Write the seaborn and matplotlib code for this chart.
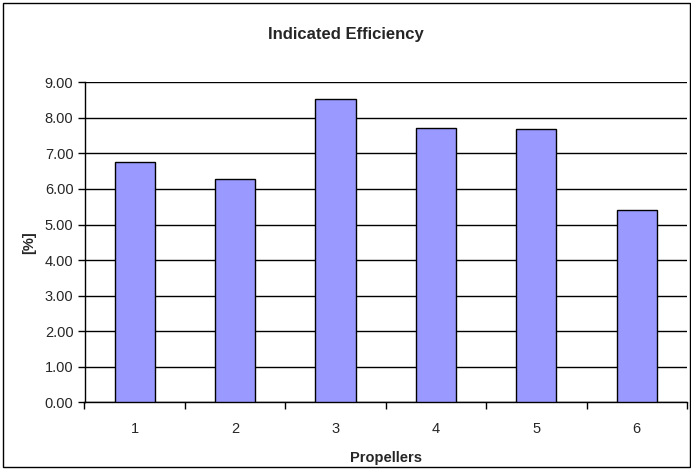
import matplotlib
matplotlib.use("Agg")
import matplotlib.pyplot as plt
import seaborn as sns
import pandas as pd
import numpy as np
from matplotlib.ticker import FixedLocator, FormatStrFormatter
from matplotlib.patches import Rectangle

propellers = ["1", "2", "3", "4", "5", "6"]
efficiency = [6.77, 6.28, 8.52, 7.71, 7.69, 5.41]
title = "Indicated Efficiency"
xlabel = "Propellers"
ylabel = "[%]"

sns.set_theme(style="white")
plt.rcParams['font.family'] = ['Liberation Sans', 'DejaVu Sans']

df = pd.DataFrame({"Propellers": propellers, "Efficiency": efficiency})

fig = plt.figure(figsize=(6.91, 4.69), dpi=100)
ax = fig.add_axes([84.5/691, 1-402.3/469, (687-84.5)/691, (402.3-82.3)/469])

sns.barplot(data=df, x="Propellers", y="Efficiency", color="#9999FF",
            edgecolor="black", linewidth=1.0, width=0.4, saturation=1, ax=ax, zorder=3)

ax.set_ylim(0, 9)
ax.set_xlim(-0.5, 5.5)
ax.yaxis.set_major_locator(FixedLocator(np.arange(0, 10, 1)))
ax.yaxis.set_major_formatter(FormatStrFormatter("%.2f"))
ax.grid(axis="y", color="black", linewidth=1.0, zorder=0)
ax.set_axisbelow(True)

for s in ["top", "right"]:
    ax.spines[s].set_visible(False)
for s in ["left", "bottom"]:
    ax.spines[s].set_color("black")
    ax.spines[s].set_linewidth(1.0)

ax.tick_params(axis="y", which="major", direction="out", length=5, width=1, color="black",
               labelsize=10.5, pad=3, left=True)
ax.tick_params(axis="x", which="major", length=0, labelsize=10.5, pad=14)
ax.set_xticks(np.arange(-0.5, 6, 1), minor=True)
ax.tick_params(axis="x", which="minor", direction="out", length=5, width=1, color="black", bottom=True)

ax.set_xlabel(xlabel, fontsize=10.5, fontweight="bold", labelpad=11)
ax.set_ylabel(ylabel, fontsize=10.5, fontweight="bold", labelpad=6)
fig.text(0.5, 1-34/469, title, ha="center", va="center", fontsize=12, fontweight="bold")

fig.patches.append(Rectangle((3/691, 2/469), 1-4/691, 1-5/469, transform=fig.transFigure,
                             fill=False, edgecolor="black", linewidth=1.0))

fig.savefig("out.png", dpi=100)
